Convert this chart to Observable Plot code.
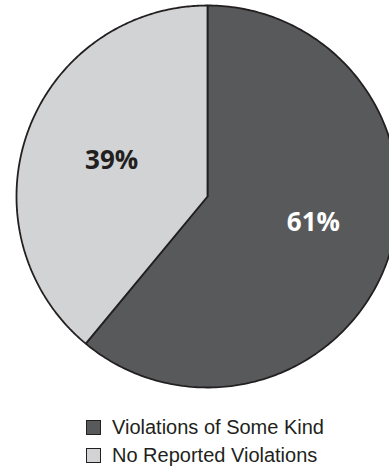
<!DOCTYPE html>
<html>
<head>
<meta charset="utf-8">
<script src="https://cdn.jsdelivr.net/npm/d3@7"></script>
<script src="https://cdn.jsdelivr.net/npm/@observablehq/plot@0.6"></script>
<style>
  html, body { margin: 0; padding: 0; background: #fff; overflow: hidden; width: 389px; height: 468px; }
  #chart svg { display: block; overflow: hidden; }
  .legend { margin-top: 8px; padding-left: 86px; font-family: "Liberation Sans", Arial, sans-serif; font-size: 20px; color: #231f20; }
  .row { display: flex; align-items: center; height: 28.5px; white-space: nowrap; }
  .sw { width: 13px; height: 13px; border: 1px solid #231f20; margin-right: 11px; flex: none; }
</style>
</head>
<body>
<div id="chart"></div>
<div class="legend" id="legend"></div>
<script>
const categories = ["Violations of Some Kind", "No Reported Violations"];
const values = [61, 39];
const labels = ["61%", "39%"];
const colors = ["#58595b", "#d1d3d4"];
const labelColors = ["#ffffff", "#231f20"];

const data = categories.map((c, i) => ({category: c, value: values[i], label: labels[i]}));
const arcs = d3.pie().sort(null).value(d => d.value)(data);

// polygon outline for each wedge (geometry sampled along the arc)
const wedges = arcs.map(a => {
  const pts = [{x: 0, y: 0}];
  const n = 240;
  for (let k = 0; k <= n; k++) {
    const t = a.startAngle + (a.endAngle - a.startAngle) * k / n;
    pts.push({x: Math.sin(t), y: Math.cos(t)});
  }
  pts.push({x: 0, y: 0});
  return pts;
});
const labelPts = arcs.map(a => {
  const m = (a.startAngle + a.endAngle) / 2;
  return {x: 0.55 * Math.sin(m), y: 0.55 * Math.cos(m), label: a.data.label};
});

const cx = 207, cy = 196, r = 191;
const chart = Plot.plot({
  width: 389,
  height: 405,
  margin: 0,
  x: {domain: [-1, 1], range: [cx - r, cx + r], axis: null},
  y: {domain: [-1, 1], range: [cy + r, cy - r], axis: null},
  style: {background: "#fff", overflow: "hidden"},
  marks: [
    ...wedges.map((w, i) => Plot.line(w, {x: "x", y: "y", fill: colors[i], stroke: "#231f20", strokeWidth: 1.8, strokeLinejoin: "miter"})),
    Plot.text([labelPts[0]], {x: "x", y: "y", text: "label", fill: labelColors[0], fontSize: 26, fontWeight: "bold", fontFamily: "Open Sans", dx: 7, dy: -9}),
    Plot.text([labelPts[1]], {x: "x", y: "y", text: "label", fill: labelColors[1], fontSize: 26, fontWeight: "bold", fontFamily: "Open Sans", dx: 3, dy: 0})
  ]
});
document.getElementById("chart").append(chart);

const legend = document.getElementById("legend");
categories.forEach((c, i) => {
  const row = document.createElement("div");
  row.className = "row";
  const sw = document.createElement("span");
  sw.className = "sw";
  sw.style.background = colors[i];
  const tx = document.createElement("span");
  tx.textContent = c;
  row.append(sw, tx);
  legend.append(row);
});
</script>
</body>
</html>
